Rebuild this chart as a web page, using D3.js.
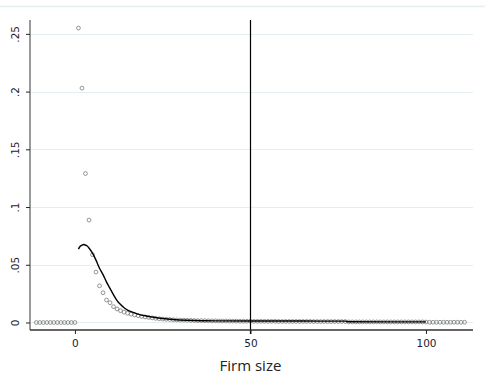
<!DOCTYPE html>
<html lang="en">
<head>
<meta charset="UTF-8">
<title>Firm size distribution</title>
<script src="https://cdnjs.cloudflare.com/ajax/libs/d3/7.8.5/d3.min.js"></script>
<style>
  body { margin: 0; background: #fff; }
  svg { display: block; }
  .tick text { font-family: "DejaVu Sans", Verdana, sans-serif; font-size: 10.5px; fill: #1c1c2e; }
  .xlabel { font-family: "Open Sans", "Segoe UI", sans-serif; font-size: 15px; fill: #222; }
</style>
</head>
<body>
<svg id="chart" width="485" height="377"></svg>
<script>
// firm sizes shown as points (-11 .. 111)
const pointSizes = d3.range(-11, 112);
// empirical share for each size
const pointShares = [
  0, 0, 0, 0, 0, 0, 0, 0, 0, 0, 0, 0,                                   // -11..0
  .255, .203, .129, .0887, .0587, .0437, .0318, .0258, .0195, .0171,   // 1..10
  .0137, .0117, .0102, .0090, .0080, .0072, .0065, .0059, .0053, .0048, // 11..20
  .0044, .0040, .0036, .0033, .0030, .0028, .0026, .0024, .0022, .0021, // 21..30
  .0020, .0019, .0018, .0017, .0016, .0016, .0015, .0015, .0014, .0014, // 31..40
  .0013, .0013, .0013, .0012, .0012, .0012, .0011, .0011, .0011, .0011, // 41..50
  .0010, .0010, .0010, .0010, .0010, .0010, .0010, .0009, .0009, .0009, // 51..60
  .0009, .0009, .0009, .0009, .0009, .0009, .0009, .0008, .0008, .0008, // 61..70
  .0008, .0008, .0008, .0008, .0008, .0008, .0008, .0005, .0005, .0005, // 71..80
  .0005, .0005, .0005, .0005, .0005, .0005, .0005, .0005, .0005, .0005, // 81..90
  .0005, .0005, .0005, .0005, .0005, .0005, .0005, .0005, .0005, .0004, // 91..100
  .0002, .0002, .0002, .0002, .0002, .0002, .0002, .0002, .0002, .0002, .0002 // 101..111
];
// fitted curve
const lineSizes = [1, 1.5, 2, 2.5, 3, 3.5, 4, 5, 6, 7, 8, 9, 10, 11, 12, 13, 14, 15, 16, 17, 18, 20, 22, 25, 28, 32, 36, 40, 50, 60, 70, 77, 78, 90, 100];
const lineShares = [.0635, .066, .067, .0675, .067, .0662, .0645, .060, .054, .047, .0415, .035, .0295, .024, .019, .0155, .0128, .0108, .0094, .0083, .0073, .0058, .0048, .0035, .0026, .0019, .0015, .0014, .0013, .0013, .0012, .0012, .0006, .0005, .0005];

const yTicks = [0, .05, .1, .15, .2, .25];
const yTickLabels = ["0", ".05", ".1", ".15", ".2", ".25"];
const xTicks = [0, 50, 100];
const refLine = 50;

const svg = d3.select("#chart");
const x = d3.scaleLinear().domain([-12.8, 113.4]).range([30, 473]);
const y = d3.scaleLinear().domain([-0.0065, 0.262]).range([330, 20]);

// outer frame line at top
svg.append("line")
  .attr("x1", 0).attr("x2", 485).attr("y1", 6.5).attr("y2", 6.5)
  .attr("stroke", "#e6eef0").attr("stroke-width", 1.5);

// grid lines
svg.append("g").selectAll("line")
  .data(yTicks)
  .join("line")
  .attr("x1", x.range()[0]).attr("x2", x.range()[1])
  .attr("y1", d => Math.round(y(d)) + 0.5).attr("y2", d => Math.round(y(d)) + 0.5)
  .attr("stroke", "#e4edf0").attr("stroke-width", 1);

// points
svg.append("g").selectAll("circle")
  .data(pointSizes.map((s, i) => [s, pointShares[i]]))
  .join("circle")
  .attr("cx", d => x(d[0])).attr("cy", d => y(d[1]))
  .attr("r", 1.9)
  .attr("fill", "none")
  .attr("stroke", "#7a7a7a")
  .attr("stroke-width", 0.8);

// fitted line
svg.append("path")
  .datum(lineSizes.map((s, i) => [s, lineShares[i]]))
  .attr("d", d3.line().x(d => x(d[0])).y(d => y(d[1])).curve(d3.curveMonotoneX))
  .attr("fill", "none")
  .attr("stroke", "#000")
  .attr("stroke-width", 1.4);

// vertical reference line
svg.append("line")
  .attr("x1", Math.round(x(refLine)) + 0.5).attr("x2", Math.round(x(refLine)) + 0.5)
  .attr("y1", y.range()[1]).attr("y2", y.range()[0] + 4)
  .attr("stroke", "#000").attr("stroke-width", 1.2);

// y axis
const yAxis = svg.append("g")
  .attr("transform", "translate(30,0)")
  .call(d3.axisLeft(y).tickValues(yTicks).tickFormat((d, i) => yTickLabels[i]).tickSize(4).tickPadding(4));
yAxis.select(".domain").attr("stroke", "#808080").attr("stroke-width", 1.6)
  .attr("d", `M0,${y.range()[1]}V${y.range()[0]}`);
yAxis.selectAll(".tick line").attr("stroke", "#222");
yAxis.selectAll(".tick text")
  .attr("transform", "rotate(-90)")
  .attr("x", 0).attr("y", -11)
  .attr("dy", 0)
  .attr("text-anchor", "middle");

// x axis
const xAxis = svg.append("g")
  .attr("transform", "translate(0,330)")
  .call(d3.axisBottom(x).tickValues(xTicks).tickSize(4).tickPadding(6));
xAxis.select(".domain").attr("stroke", "#333").attr("stroke-width", 1.3)
  .attr("d", `M${x.range()[0]},0H${x.range()[1]}`);
xAxis.selectAll(".tick line").attr("stroke", "#222");

svg.append("text")
  .attr("class", "xlabel")
  .attr("x", x(refLine))
  .attr("y", 371)
  .attr("text-anchor", "middle")
  .text("Firm size");
</script>
</body>
</html>
